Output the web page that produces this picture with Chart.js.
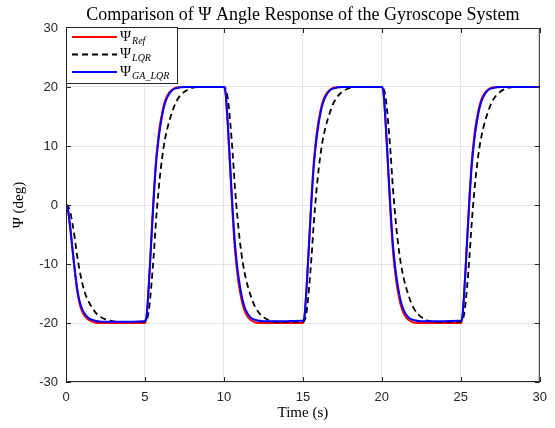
<!DOCTYPE html>
<html>
<head>
<meta charset="utf-8">
<script src="https://cdn.jsdelivr.net/npm/chart.js@4.4.1/dist/chart.umd.min.js"></script>
<style>
  html, body { margin: 0; padding: 0; background: #fff; }
</style>
</head>
<body>
<canvas id="psiChart" width="555" height="428"></canvas>
<script>
// time samples (s): dense near each switching instant
const time = [
  0, 0.1, 0.25, 0.4, 0.55, 0.7, 0.85, 1, 1.2, 1.4, 1.7, 2, 2.5, 3.5, 4.9,
  5, 5.1, 5.25, 5.4, 5.55, 5.7, 5.85, 6, 6.2, 6.4, 6.7, 7, 7.5, 8.5, 9.9,
  10, 10.1, 10.25, 10.4, 10.55, 10.7, 10.85, 11, 11.2, 11.4, 11.7, 12, 12.5, 13.5, 14.9,
  15, 15.1, 15.25, 15.4, 15.55, 15.7, 15.85, 16, 16.2, 16.4, 16.7, 17, 17.5, 18.5, 19.9,
  20, 20.1, 20.25, 20.4, 20.55, 20.7, 20.85, 21, 21.2, 21.4, 21.7, 22, 22.5, 23.5, 24.9,
  25, 25.1, 25.25, 25.4, 25.55, 25.7, 25.85, 26, 26.2, 26.4, 26.7, 27, 27.5, 28.5, 29.9,
  30
];
// Psi_Ref (red)
const psiRef = [
  0, -0.5, -3.6, -7.4, -11.2, -14.4, -16.6, -17.9, -18.9, -19.4, -19.8, -20, -20, -20, -20,
  -20, -19.0, -13.2, -5.8, 1.6, 7.6, 11.6, 14.4, 17.0, 18.5, 19.5, 19.9, 20, 20, 20,
  20, 19.0, 13.2, 5.8, -1.6, -7.6, -11.6, -14.4, -17.0, -18.5, -19.5, -19.9, -20, -20, -20,
  -20, -19.0, -13.2, -5.8, 1.6, 7.6, 11.6, 14.4, 17.0, 18.5, 19.5, 19.9, 20, 20, 20,
  20, 19.0, 13.2, 5.8, -1.6, -7.6, -11.6, -14.4, -17.0, -18.5, -19.5, -19.9, -20, -20, -20,
  -20, -19.0, -13.2, -5.8, 1.6, 7.6, 11.6, 14.4, 17.0, 18.5, 19.5, 19.9, 20, 20, 20,
  20
];
// Psi_LQR (black dashed)
const psiLqr = [
  0, -0.1, -1.0, -3.0, -5.5, -8.5, -10.9, -12.9, -14.9, -16.2, -17.6, -18.6, -19.4, -19.8, -19.8,
  -19.8, -19.6, -17.8, -13.8, -8.7, -2.7, 2.1, 6.1, 10.1, 12.8, 15.6, 17.6, 19.2, 20, 20,
  20, 19.8, 18.0, 14.0, 8.9, 2.9, -1.9, -5.9, -9.9, -12.6, -15.4, -17.4, -19.0, -19.8, -19.8,
  -19.8, -19.6, -17.8, -13.8, -8.7, -2.7, 2.1, 6.1, 10.1, 12.8, 15.6, 17.6, 19.2, 20, 20,
  20, 19.8, 18.0, 14.0, 8.9, 2.9, -1.9, -5.9, -9.9, -12.6, -15.4, -17.4, -19.0, -19.8, -19.8,
  -19.8, -19.6, -17.8, -13.8, -8.7, -2.7, 2.1, 6.1, 10.1, 12.8, 15.6, 17.6, 19.2, 20, 20,
  20
];
// Psi_GA_LQR (blue)
const psiGaLqr = [
  0, -0.4, -3.3, -7.1, -10.8, -14.0, -16.2, -17.5, -18.5, -19.1, -19.5, -19.7, -19.8, -19.8, -19.7,
  -19.6, -18.9, -13.3, -6.2, 0.9, 6.9, 10.9, 13.8, 16.6, 18.2, 19.4, 19.8, 20, 20, 20,
  20, 19.2, 13.6, 6.5, -0.6, -6.6, -10.6, -13.5, -16.3, -17.9, -19.1, -19.5, -19.7, -19.7, -19.6,
  -19.6, -18.9, -13.3, -6.2, 0.9, 6.9, 10.9, 13.8, 16.6, 18.2, 19.4, 19.8, 20, 20, 20,
  20, 19.2, 13.6, 6.5, -0.6, -6.6, -10.6, -13.5, -16.3, -17.9, -19.1, -19.5, -19.7, -19.7, -19.6,
  -19.6, -18.9, -13.3, -6.2, 0.9, 6.9, 10.9, 13.8, 16.6, 18.2, 19.4, 19.8, 20, 20, 20,
  20
];
const xTicks = [0, 5, 10, 15, 20, 25, 30];
const yTicks = [-30, -20, -10, 0, 10, 20, 30];
const legendSubs = ['Ref', 'LQR', 'GA_LQR'];

const axisColor = '#262626';
const gridColor = '#e3e3e3';
const serif = "'Liberation Serif', 'DejaVu Serif', serif";
const sans = "'Liberation Sans', Arial, sans-serif";

function pts(ys) {
  return time.map((t, i) => ({x: t, y: ys[i]}));
}

// frame, inward ticks, title and the MATLAB-like legend
const matlabLook = {
  id: 'matlabLook',
  afterDatasetsDraw(chart) {
    const ctx = chart.ctx;
    const ca = chart.chartArea;
    const xs = chart.scales.x, ys = chart.scales.y;
    ctx.save();
    ctx.strokeStyle = axisColor;
    ctx.lineWidth = 1;
    ctx.strokeRect(ca.left + 0.5, ca.top + 0.5, ca.right - ca.left - 1, ca.bottom - ca.top - 1);
    ctx.beginPath();
    xTicks.forEach(v => {
      const px = Math.round(xs.getPixelForValue(v)) + 0.5;
      ctx.moveTo(px, ca.bottom); ctx.lineTo(px, ca.bottom - 5);
      ctx.moveTo(px, ca.top); ctx.lineTo(px, ca.top + 5);
    });
    yTicks.forEach(v => {
      const py = Math.round(ys.getPixelForValue(v)) + 0.5;
      ctx.moveTo(ca.left, py); ctx.lineTo(ca.left + 5, py);
      ctx.moveTo(ca.right, py); ctx.lineTo(ca.right - 5, py);
    });
    ctx.stroke();

    // title
    ctx.fillStyle = '#000';
    ctx.font = '18px ' + serif;
    ctx.textAlign = 'center';
    ctx.textBaseline = 'middle';
    ctx.fillText('Comparison of \u03A8 Angle Response of the Gyroscope System', (ca.left + ca.right) / 2, 15);

    // legend
    const lx = ca.left, ly = ca.top - 1, lw = 111, lh = 56;
    ctx.fillStyle = '#fff';
    ctx.fillRect(lx, ly, lw, lh);
    ctx.strokeStyle = axisColor;
    ctx.strokeRect(lx + 0.5, ly + 0.5, lw, lh);
    chart.data.datasets.forEach((ds, i) => {
      const cy = ly + 10 + i * 17.5;
      ctx.beginPath();
      ctx.strokeStyle = ds.borderColor;
      ctx.lineWidth = ds.borderWidth;
      ctx.setLineDash(ds.borderDash || []);
      ctx.moveTo(lx + 6, cy); ctx.lineTo(lx + 51, cy);
      ctx.stroke();
      ctx.setLineDash([]);
      ctx.fillStyle = '#000';
      ctx.textAlign = 'left';
      ctx.textBaseline = 'middle';
      ctx.font = '15px ' + serif;
      ctx.fillText('\u03A8', lx + 54, cy);
      const w = ctx.measureText('\u03A8').width;
      ctx.font = 'italic 10px ' + serif;
      ctx.fillText(legendSubs[i], lx + 55 + w, cy + 4);
    });
    ctx.restore();
  }
};

new Chart(document.getElementById('psiChart'), {
  type: 'line',
  data: {
    datasets: [
      // higher order is drawn first, so blue ends up on top like the reference
      {label: 'Ref', data: pts(psiRef), borderColor: '#ff0000', borderWidth: 2, order: 3},
      {label: 'LQR', data: pts(psiLqr), borderColor: '#000000', borderWidth: 1.8, borderDash: [6, 4], order: 2},
      {label: 'GA_LQR', data: pts(psiGaLqr), borderColor: '#0000ff', borderWidth: 2, order: 1}
    ]
  },
  options: {
    responsive: false,
    animation: false,
    devicePixelRatio: 1,
    datasets: {line: {pointRadius: 0, cubicInterpolationMode: 'monotone', fill: false}},
    layout: {padding: {top: 28, right: 15, left: 0, bottom: 0}},
    plugins: {legend: {display: false}, title: {display: false}, tooltip: {enabled: false}},
    scales: {
      x: {
        type: 'linear', min: 0, max: 30,
        afterBuildTicks: s => { s.ticks = xTicks.map(v => ({value: v})); },
        afterFit: s => { s.height = 46; },
        grid: {color: gridColor, drawTicks: false},
        border: {display: false},
        ticks: {color: axisColor, font: {family: sans, size: 13}, padding: 8, maxRotation: 0},
        title: {display: true, text: 'Time (s)', color: '#000', font: {family: serif, size: 15}, padding: {top: 0, bottom: 6}}
      },
      y: {
        min: -30, max: 30,
        afterBuildTicks: s => { s.ticks = yTicks.map(v => ({value: v})); },
        afterFit: s => { s.width = 66; },
        grid: {color: gridColor, drawTicks: false},
        border: {display: false},
        ticks: {color: axisColor, font: {family: sans, size: 13}, padding: 8},
        title: {display: true, text: '\u03A8 (deg)', color: '#000', font: {family: serif, size: 15}, padding: {top: 10, bottom: 0}}
      }
    }
  },
  plugins: [matlabLook]
});
</script>
</body>
</html>
